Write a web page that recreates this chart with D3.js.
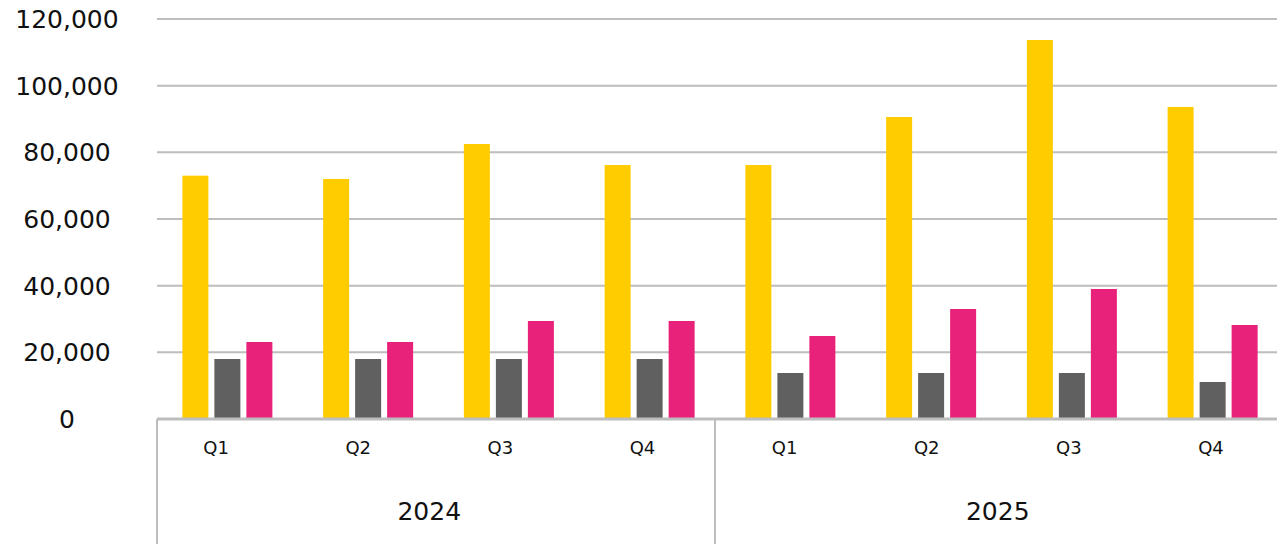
<!DOCTYPE html>
<html>
<head>
<meta charset="utf-8">
<script src="https://cdn.jsdelivr.net/npm/d3@7"></script>
<style>
  html, body { margin: 0; padding: 0; background: #fff; }
  text { font-family: "DejaVu Sans", sans-serif; fill: #111; }
</style>
</head>
<body>
<div id="chart"></div>
<script>
var years = ['2024', '2025'];
var quarters = ['Q1', 'Q2', 'Q3', 'Q4'];
var seriesNames = ['A', 'B', 'C'];
var seriesA = [73000, 72000, 82500, 76200, 76200, 90600, 113700, 93600];
var seriesB = [18000, 18000, 18000, 18000, 13800, 13800, 13800, 11100];
var seriesC = [23100, 23100, 29400, 29400, 24900, 33000, 39000, 28200];
var yTicks = [0, 20000, 40000, 60000, 80000, 100000, 120000];
var colors = ['#FFCC00', '#606060', '#E8217A'];

var width = 1277, height = 544;
var plotLeft = 157, plotTop = 19, plotBottom = 419;

var svg = d3.select('#chart').append('svg')
  .attr('width', width)
  .attr('height', height);

// one entry per year/quarter
var groups = [];
years.forEach(function(yr) {
  quarters.forEach(function(q) { groups.push(yr + '-' + q); });
});

var x0 = d3.scaleBand().domain(groups).range([plotLeft, 1283]).padding(0);
var x1 = d3.scaleBand().domain(seriesNames).range([0, 90]).paddingInner(0.1875).paddingOuter(0);
var xYear = d3.scaleBand().domain(years).range([plotLeft, 1273]).padding(0);
var xLabel = d3.scaleBand().domain(groups).range([145, 1282]).padding(0);
var y = d3.scaleLinear().domain([0, 120000]).range([plotBottom, plotTop]);

// gridlines
svg.append('g').selectAll('line')
  .data(yTicks.filter(function(d) { return d > 0; }))
  .enter().append('line')
  .attr('x1', plotLeft).attr('x2', width)
  .attr('y1', function(d) { return y(d); })
  .attr('y2', function(d) { return y(d); })
  .style('stroke', '#BDBDBD')
  .style('stroke-width', 2);

// y labels
svg.append('g').selectAll('text')
  .data(yTicks)
  .enter().append('text')
  .attr('x', 67)
  .attr('y', function(d) { return y(d) + 9; })
  .attr('text-anchor', 'middle')
  .style('font-size', '25px')
  .text(function(d) { return d3.format(',')(d); });

// bars
var data = groups.map(function(g, i) {
  return { key: g, values: [seriesA[i], seriesB[i], seriesC[i]] };
});

var grp = svg.append('g').selectAll('g')
  .data(data)
  .enter().append('g')
  .attr('transform', function(d) { return 'translate(' + (x0(d.key) + (x0.bandwidth() - 90) / 2) + ',0)'; });

grp.selectAll('rect')
  .data(function(d) { return d.values.map(function(v, j) { return { s: seriesNames[j], v: v, c: colors[j] }; }); })
  .enter().append('rect')
  .attr('x', function(d) { return x1(d.s); })
  .attr('width', x1.bandwidth())
  .attr('y', function(d) { return y(d.v); })
  .attr('height', function(d) { return plotBottom - y(d.v); })
  .style('fill', function(d) { return d.c; });

// baseline
svg.append('line')
  .attr('x1', plotLeft).attr('x2', width)
  .attr('y1', plotBottom).attr('y2', plotBottom)
  .style('stroke', '#BDBDBD')
  .style('stroke-width', 3);

// year separators
svg.append('g').selectAll('line')
  .data(years)
  .enter().append('line')
  .attr('x1', function(d) { return xYear(d); })
  .attr('x2', function(d) { return xYear(d); })
  .attr('y1', plotBottom).attr('y2', height)
  .style('stroke', '#BDBDBD')
  .style('stroke-width', 2);

// quarter labels
svg.append('g').selectAll('text')
  .data(groups)
  .enter().append('text')
  .attr('x', function(d) { return xLabel(d) + xLabel.bandwidth() / 2; })
  .attr('y', 454)
  .attr('text-anchor', 'middle')
  .style('font-size', '18px')
  .text(function(d) { return d.split('-')[1]; });

// year labels
svg.append('g').selectAll('text')
  .data(years)
  .enter().append('text')
  .attr('x', function(d) { return (xLabel(d + '-Q1') + xLabel(d + '-Q4') + xLabel.bandwidth()) / 2; })
  .attr('y', 520)
  .attr('text-anchor', 'middle')
  .style('font-size', '25px')
  .text(function(d) { return d; });
</script>
</body>
</html>
